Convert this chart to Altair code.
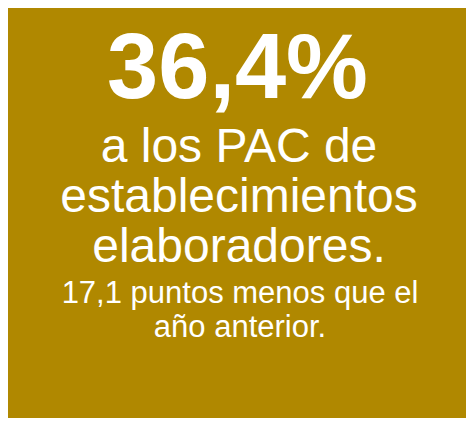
import altair as alt
import pandas as pd

headline = ["36,4%"]
subtitle_lines = ["a los PAC de", "establecimientos", "elaboradores."]
note_lines = ["17,1 puntos menos que el", "año anterior."]

BG = "#B08800"
FONT = "Liberation Sans"

W, H = 458, 410

def block(lines, size, weight, y, line_height, cx):
    df = pd.DataFrame({"t": ["\n".join(lines)]})
    return alt.Chart(df).mark_text(
        font=FONT, fontSize=size, fontWeight=weight, color="white",
        align="center", baseline="alphabetic", lineBreak="\n",
        lineHeight=line_height,
    ).encode(x=alt.value(cx), y=alt.value(y), text="t:N")

chart = alt.layer(
    block(headline, 92, "bold", 90, 92, 229.5),
    block(subtitle_lines, 48, "normal", 154, 50, 231),
    block(note_lines, 31, "normal", 295, 34, 232),
).properties(
    width=W, height=H, background=BG, padding=0,
    autosize=alt.AutoSizeParams(type="none"),
).configure_view(stroke=None, fill=BG)

chart.save("out.html", embed_options={"renderer": "svg", "actions": False})
